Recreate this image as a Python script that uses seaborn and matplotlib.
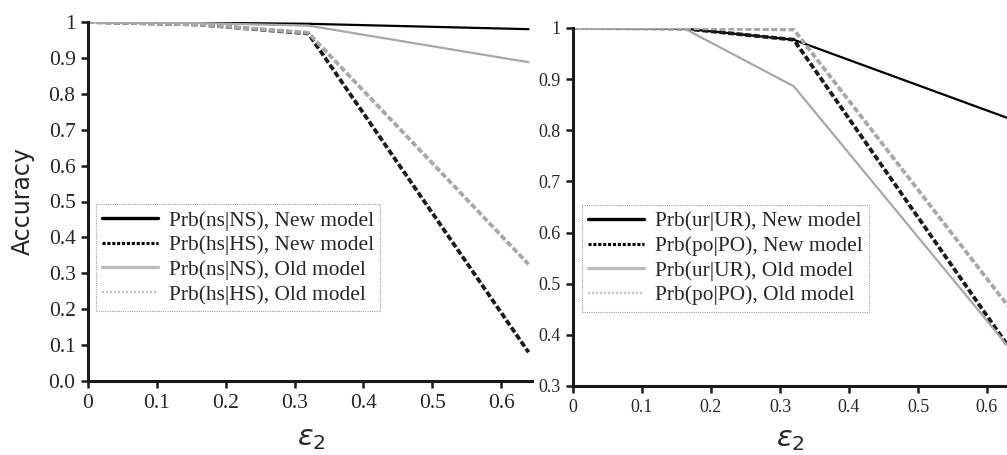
import numpy as np
import pandas as pd
import seaborn as sns
import matplotlib
matplotlib.use("Agg")
import matplotlib.pyplot as plt
from matplotlib.lines import Line2D

# ---- data ----
eps2 = [0.0, 0.16, 0.32, 0.64]

left_labels = ["Prb(ns|NS), New model", "Prb(hs|HS), New model",
               "Prb(ns|NS), Old model", "Prb(hs|HS), Old model"]
left_new_ns = [1.0, 0.998, 0.995, 0.980]
left_new_hs = [1.0, 0.993, 0.968, 0.080]
left_old_ns = [1.0, 0.997, 0.990, 0.888]
left_old_hs = [1.0, 0.993, 0.970, 0.325]

right_labels = ["Prb(ur|UR), New model", "Prb(po|PO), New model",
                "Prb(ur|UR), Old model", "Prb(po|PO), Old model"]
right_new_ur = [1.0, 0.999, 0.977, 0.819]
right_new_po = [1.0, 0.999, 0.977, 0.360]
right_old_ur = [1.0, 1.0, 0.886, 0.362]
right_old_po = [1.0, 1.0, 0.997, 0.440]

left_xticks = [0, 0.1, 0.2, 0.3, 0.4, 0.5, 0.6]
left_xticklabels = ["0", "0.1", "0.2", "0.3", "0.4", "0.5", "0.6"]
left_yticks = [0, 0.1, 0.2, 0.3, 0.4, 0.5, 0.6, 0.7, 0.8, 0.9, 1.0]
left_yticklabels = ["0.0", "0.1", "0.2", "0.3", "0.4", "0.5", "0.6", "0.7", "0.8", "0.9", "1"]
right_yticks = [0.3, 0.4, 0.5, 0.6, 0.7, 0.8, 0.9, 1.0]
right_yticklabels = ["0.3", "0.4", "0.5", "0.6", "0.7", "0.8", "0.9", "1"]

# ---- style ----
sns.set_style("ticks")
plt.rcParams['font.family'] = ['Liberation Serif', 'DejaVu Serif']
plt.rcParams['mathtext.fontset'] = 'dejavusans'

GREY = "#a8a8a8"

styles = [
    dict(color="black", lw=1.6, ls="-"),
    dict(color="#1a1a1a", lw=2.7, ls=(0, (1.6, 0.7))),
    dict(color=GREY, lw=1.6, ls="-"),
    dict(color=GREY, lw=2.7, ls=(0, (1.6, 0.7))),
]
leg_styles = [
    dict(color="black", lw=2.4, ls="-"),
    dict(color="black", lw=2.2, ls=(0, (1, 0.6))),
    dict(color="#bdbdbd", lw=2.4, ls="-"),
    dict(color="#c4c4c4", lw=1.6, ls=(0, (1, 0.8))),
]

fig = plt.figure(figsize=(10.07, 4.55), dpi=100)
ax1 = fig.add_axes([88/1007, 1-381/455, 444/1007, 359/455])
ax2 = fig.add_axes([573/1007, 1-386/455, 441.6/1007, 358/455])


def draw(ax, series, labels, ylim, yticks, yticklabels, tickfs, xtickfs, legfs, leganchor):
    for vals, st in zip(series, styles):
        df = pd.DataFrame({"x": eps2, "y": vals})
        sns.lineplot(data=df, x="x", y="y", ax=ax, color=st["color"],
                     linewidth=st["lw"], linestyle=st["ls"], legend=False)
    ax.set_ylim(*ylim)
    ax.set_xticks(left_xticks)
    ax.set_xticklabels(left_xticklabels, fontsize=xtickfs)
    ax.set_yticks(yticks)
    ax.set_yticklabels(yticklabels, fontsize=tickfs)
    for s in ["top", "right"]:
        ax.spines[s].set_visible(False)
    for s in ["left", "bottom"]:
        ax.spines[s].set_linewidth(2.2)
        ax.spines[s].set_color("#1a1a1a")
    ax.tick_params(direction="out", length=5, width=1.8, color="#1a1a1a", pad=4)
    ax.set_xlabel("")
    ax.set_ylabel("")
    handles = [Line2D([], [], **st) for st in leg_styles]
    leg = ax.legend(handles, labels, loc="lower left", bbox_to_anchor=leganchor,
                    frameon=True, fancybox=False, fontsize=legfs,
                    handlelength=2.6, handletextpad=0.5, labelspacing=0.22,
                    borderpad=0.3, borderaxespad=0)
    fr = leg.get_frame()
    fr.set_edgecolor("#888888")
    fr.set_linestyle((0, (1, 1)))
    fr.set_linewidth(0.8)
    return ax


draw(ax1, [left_new_ns, left_new_hs, left_old_ns, left_old_hs], left_labels,
     (0, 1.0), left_yticks, left_yticklabels, 15.5, 15.5, 15.4, (0.018, 0.195))
draw(ax2, [right_new_ur, right_new_po, right_old_ur, right_old_po], right_labels,
     (0.3, 1.0), right_yticks, right_yticklabels, 13, 13, 15.4, (0.02, 0.207))
ax1.set_xlim(0, 0.645)
ax2.set_xlim(0, 0.64)

ax1.set_ylabel("Accuracy", family="DejaVu Sans", fontsize=17, labelpad=10)
ax1.set_xlabel(r"$\varepsilon_2$", fontsize=21)
ax2.set_xlabel(r"$\varepsilon_2$", fontsize=21)
ax2.xaxis.set_label_coords((790-573)/441.6, -0.115)
ax1.xaxis.set_label_coords((311-88)/444, -0.125)

fig.savefig("out.png", dpi=100)
